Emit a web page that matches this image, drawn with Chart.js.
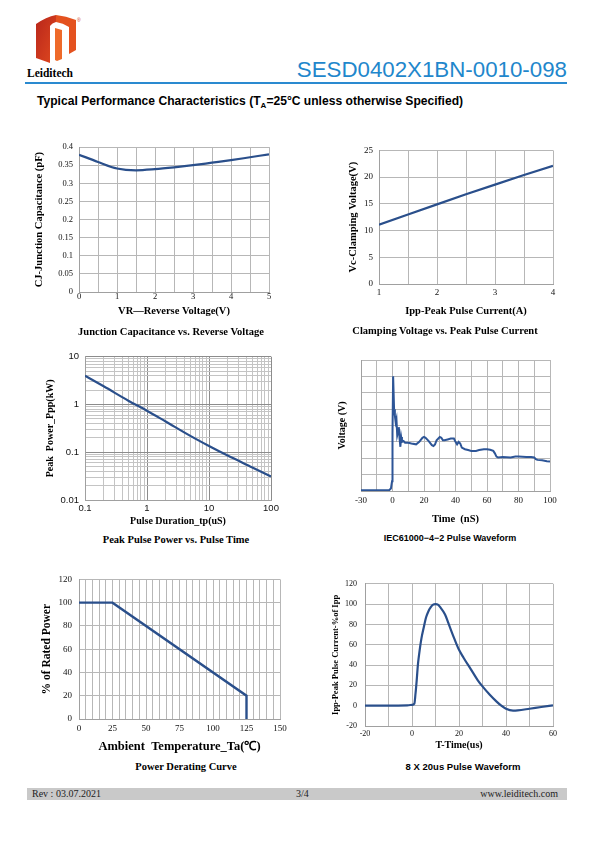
<!DOCTYPE html>
<html>
<head>
<meta charset="utf-8">
<script src="https://cdn.jsdelivr.net/npm/chart.js@4.4.1/dist/chart.umd.min.js"></script>
<style>
  body { margin: 0; width: 595px; height: 841px; position: relative; background: #fff; overflow: hidden;
         font-family: "Liberation Sans", Arial, sans-serif; }
  .abs { position: absolute; white-space: nowrap; line-height: 1; }
  .cap { position: absolute; white-space: nowrap; line-height: 1; transform: translate(-50%, -50%); font-weight: bold; color: #000; }
  .serif { font-family: "Liberation Serif", "Times New Roman", serif; }
  canvas { position: absolute; }
</style>
</head>
<body>

<!-- header -->
<svg class="abs" style="left:30px;top:10px" width="55" height="60" viewBox="30 10 55 60">
  <defs>
    <linearGradient id="lg1" x1="0" y1="0" x2="1" y2="1">
      <stop offset="0" stop-color="#b8261b"/>
      <stop offset="1" stop-color="#e0491f"/>
    </linearGradient>
  </defs>
  <path d="M36,24 Q46,17 56,15 L56,22 Q52,23 50,26 L50,63 L36,58 Z" fill="url(#lg1)"/>
  <path d="M56,15 Q66,16 76,20 L76,50 L69,54 L69,27 Q63,23 56,22 Z" fill="#e4521f"/>
  <path d="M55,28 L62,30 L62,59 L57,61 L55,60 Z" fill="#ee6a2a"/>
  <text x="77" y="22" font-size="5" fill="#d03a20" font-family="Liberation Sans">®</text>
</svg>
<div class="abs serif" style="left:27px;top:68px;font-size:11.5px;font-weight:bold;">Leiditech</div>
<div class="abs" style="right:28px;top:59px;font-size:22.3px;color:#1f87cc;">SESD0402X1BN-0010-098</div>
<div class="abs" style="left:25px;top:82px;width:542px;height:1.5px;background:#2a8ad0;"></div>
<div class="abs" style="left:37px;top:95px;font-size:12.1px;font-weight:bold;">Typical Performance Characteristics (T<span style="font-size:8px;position:relative;top:3px;">A</span>=25°C unless otherwise Specified)</div>

<!-- charts -->
<canvas id="c1"></canvas>
<canvas id="c2"></canvas>
<canvas id="c3"></canvas>
<canvas id="c4"></canvas>
<canvas id="c5"></canvas>
<canvas id="c6"></canvas>

<!-- captions -->
<div class="cap serif" style="left:171px;top:332px;font-size:10.5px;">Junction Capacitance vs. Reverse Voltage</div>
<div class="cap serif" style="left:445px;top:331px;font-size:10.5px;">Clamping Voltage vs. Peak Pulse Current</div>
<div class="cap serif" style="left:176px;top:540px;font-size:10.5px;">Peak Pulse Power vs. Pulse Time</div>
<div class="cap" style="left:450px;top:538px;font-size:9px;">IEC61000−4−2 Pulse Waveform</div>
<div class="cap serif" style="left:186px;top:767px;font-size:10.5px;">Power Derating Curve</div>
<div class="cap" style="left:463px;top:767px;font-size:9.5px;">8 X 20us Pulse Waveform</div>

<!-- footer -->
<div class="abs" style="left:27px;top:788px;width:540px;height:12px;background:#c9c9c9;"></div>
<div class="abs serif" style="left:32px;top:789px;font-size:10px;color:#222;">Rev : 03.07.2021</div>
<div class="abs serif" style="left:296px;top:789px;font-size:10px;color:#222;">3/4</div>
<div class="abs serif" style="right:37px;top:789px;font-size:10px;color:#222;">www.leiditech.com</div>

<script>
// ---- data ----
// junction capacitance vs reverse voltage
const capVr = [0, 0.5, 1, 1.5, 2, 2.5, 3, 3.5, 4, 4.5, 5];
const capPf = [0.379, 0.359, 0.341, 0.336, 0.339, 0.344, 0.35, 0.357, 0.364, 0.372, 0.38];

// clamping voltage vs peak pulse current
const clampIpp = [1, 1.5, 2, 2.5, 3, 3.5, 4];
const clampVc = [11.1, 13.0, 14.9, 16.8, 18.6, 20.4, 22.1];

// peak pulse power vs pulse time
const pulseTp = [0.1, 0.2, 0.5, 1, 2, 5, 10, 20, 50, 100];
const pulsePpp = [3.98, 2.4, 1.2, 0.74, 0.44, 0.22, 0.135, 0.085, 0.048, 0.031];

// IEC61000-4-2 waveform (voltage in grid units)
const iecT = [-20, -15, -10, -5, -2, -1, -0.3, 0, 0.4, 1, 1.5, 2, 2.5, 3, 3.5, 4, 4.5, 5, 5.5, 6, 7, 8, 10, 12,
  15, 17, 19, 20, 21, 23, 25, 26, 27, 28, 30, 31, 32, 33, 35, 37, 39, 40, 41, 42, 43, 44, 46, 48, 50, 53, 55,
  58, 60, 62, 64, 65, 66, 67, 70, 75, 78, 80, 85, 88, 90, 91, 92, 95, 98, 100];
const iecV = [0.05, 0.05, 0.04, 0.05, 0.06, 0.15, 0.6, 3.5, 7.0, 5.0, 4.6, 4.2, 4.4, 3.4, 3.6, 3.9, 3.2, 2.7, 3.3, 3.0, 3.05, 2.95, 2.95, 2.9,
  2.85, 3.0, 3.25, 3.3, 3.25, 3.05, 2.8, 2.75, 2.85, 3.1, 3.3, 3.25, 3.1, 3.1, 3.15, 3.2, 3.2, 3.0, 2.85, 3.0, 2.9, 2.65, 2.55, 2.5, 2.45, 2.45, 2.5,
  2.55, 2.55, 2.52, 2.45, 2.3, 2.1, 2.05, 2.07, 2.05, 2.1, 2.1, 2.08, 2.08, 2.05, 1.95, 1.9, 1.88, 1.82, 1.8];
const iecTickText = { '-20': '-30', '0': '0', '20': '20', '40': '40', '60': '60', '80': '80', '100': '100' };

// power derating
const derateTa = [0, 25, 125, 125];
const deratePct = [100, 100, 20, 0];

// 8x20us pulse waveform
const waveT = [-20, -10, -2, 0, 1, 1.5, 2, 2.5, 3, 4, 5, 6, 7, 8, 9, 10, 11, 12, 14, 16, 18, 20, 22, 25, 28, 30, 33, 36, 38, 40, 43, 45, 50, 55, 60];
const waveI = [0, 0, 0.4, 0.8, 2, 12, 25, 40, 50, 66, 77, 87, 93, 97, 99.5, 100, 99.5, 97, 90, 78, 66, 55, 47, 36, 25, 19, 11, 4, 0, -3, -4.8, -4.6, -3, -1.3, 0.3];

// ---- styling ----
const GRID = '#b7b7b7';
const LINE = '#2a4f8b';
const SERIF = '"Liberation Serif", "Times New Roman", serif';
const SANS = '"Liberation Sans", Arial, sans-serif';

function pts(xs, ys) { return xs.map((x, i) => ({ x: x, y: ys[i] })); }

function place(id, plot, m) {
  const c = document.getElementById(id);
  const w = plot.r - plot.l + m.l + m.r, h = plot.b - plot.t + m.t + m.b;
  c.style.left = (plot.l - m.l) + 'px';
  c.style.top = (plot.t - m.t) + 'px';
  c.style.width = w + 'px';
  c.style.height = h + 'px';
  c.width = w; c.height = h;
  return c;
}

function scale(axis, o, extra) {
  const isX = axis === 'x';
  const t = isX ? o.xTitle : o.yTitle;
  const lh = t.size * 1.2;
  const pad = isX ? (o.plot.b + o.m.b) - t.y - lh / 2 : t.x - (o.plot.l - o.m.l) - lh / 2;
  return Object.assign({
    type: 'linear',
    position: isX ? 'bottom' : 'left',
    afterFit: s => { if (isX) s.height = o.m.b; else s.width = o.m.l; },
    border: { display: true, color: '#a0a0a0', width: 1 },
    grid: { color: GRID, lineWidth: 1, drawTicks: false },
    title: {
      display: true, text: t.text, color: '#000',
      font: { family: t.family || SERIF, size: t.size, weight: 'bold', lineHeight: 1.2 },
      padding: isX ? { top: 0, bottom: pad } : { top: pad, bottom: 0 }
    }
  }, extra);
}

function ticks(family, size, padding, callback, extra) {
  return Object.assign({ color: '#111', font: { family: family, size: size }, padding: padding,
    autoSkip: false, maxRotation: 0, callback: callback }, extra || {});
}

function lineChart(o) {
  const c = place(o.id, o.plot, o.m);
  return new Chart(c, {
    type: 'line',
    data: { datasets: [{ data: o.data, borderColor: o.color || LINE, borderWidth: o.width || 2.2,
      tension: o.tension || 0, cubicInterpolationMode: o.monotone ? 'monotone' : 'default', fill: false }] },
    options: {
      responsive: false, animation: false, devicePixelRatio: 1,
      layout: { padding: { left: 0, top: o.m.t, right: o.m.r, bottom: 0 } },
      plugins: { legend: { display: false }, tooltip: { enabled: false } },
      elements: { point: { radius: 0 } },
      scales: { x: scale('x', o, o.x), y: scale('y', o, o.y) }
    }
  });
}

const round2 = v => String(Math.round(v * 100) / 100);
const onlyAt = list => v => list.indexOf(Math.round(v * 1000) / 1000) >= 0 ? String(Math.round(v * 1000) / 1000) : '';

function logTicks(min, max) {
  const out = [];
  for (let e = Math.floor(Math.log10(min)); e <= Math.ceil(Math.log10(max)); e++) {
    for (let k = 1; k < 10; k++) {
      const v = Number((k * Math.pow(10, e)).toPrecision(6));
      if (v >= min * 0.999 && v <= max * 1.001) out.push(v);
    }
  }
  return out;
}
const isDecade = v => Math.abs(Math.log10(v) - Math.round(Math.log10(v))) < 1e-6;
const logGrid = { color: ctx => (ctx.tick && isDecade(ctx.tick.value)) ? '#8c8c8c' : '#c4c4c4', lineWidth: 1, drawTicks: false };

// 1. junction capacitance
lineChart({
  id: 'c1', plot: { l: 79, t: 146, r: 269, b: 292 }, m: { l: 50, t: 10, r: 12, b: 36 },
  xTitle: { text: 'VR\u2014Reverse Voltage(V)', size: 10.5, y: 311.5 },
  yTitle: { text: 'CJ-Junction Capacitance (pF)', size: 10.5, x: 39 },
  data: pts(capVr, capPf), tension: 0.4, monotone: true,
  x: { min: 0, max: 5, ticks: ticks(SERIF, 8.5, 0, onlyAt([0, 1, 2, 3, 4, 5]), { stepSize: 0.5 }) },
  y: { min: 0, max: 0.4, ticks: ticks(SERIF, 8.5, 6, round2, { stepSize: 0.05 }) }
});

// 2. clamping voltage
lineChart({
  id: 'c2', plot: { l: 379, t: 149, r: 553, b: 284 }, m: { l: 50, t: 10, r: 14, b: 36 },
  xTitle: { text: 'Ipp-Peak Pulse Current(A)', size: 10.5, y: 311 },
  yTitle: { text: 'Vc-Clamping Voltage(V)', size: 10.5, x: 353 },
  data: pts(clampIpp, clampVc), tension: 0,
  x: { min: 1, max: 4, ticks: ticks(SERIF, 9, 3.5, onlyAt([1, 2, 3, 4]), { stepSize: 0.5 }) },
  y: { min: 0, max: 25, ticks: ticks(SERIF, 9, 6, v => String(v), { stepSize: 5 }) }
});

// 3. peak pulse power (log-log)
lineChart({
  id: 'c3', plot: { l: 85, t: 355, r: 271, b: 500 }, m: { l: 52, t: 10, r: 14, b: 32 },
  xTitle: { text: 'Pulse Duration_tp(uS)', size: 10, y: 521.5 },
  yTitle: { text: 'Peak  Power_Ppp(kW)', size: 10, x: 50 },
  data: pts(pulseTp, pulsePpp), tension: 0.4, monotone: true,
  x: { type: 'logarithmic', min: 0.1, max: 100, grid: logGrid,
       afterBuildTicks: s => { s.ticks = logTicks(0.1, 100).map(v => ({ value: v })); },
       ticks: ticks(SANS, 9.5, 3, v => isDecade(v) ? String(Number(v.toPrecision(1))) : '') },
  y: { type: 'logarithmic', min: 0.01, max: 10, grid: logGrid,
       afterBuildTicks: s => { s.ticks = logTicks(0.01, 10).map(v => ({ value: v })); },
       ticks: ticks(SANS, 9.5, 6, v => isDecade(v) ? String(Number(v.toPrecision(1))) : '') }
});

// 4. IEC61000-4-2 waveform
lineChart({
  id: 'c4', plot: { l: 361, t: 360, r: 550, b: 491 }, m: { l: 28, t: 10, r: 14, b: 36 },
  xTitle: { text: 'Time  (nS)', size: 10.5, y: 519 },
  yTitle: { text: 'Voltage (V)', size: 10, x: 342 },
  data: pts(iecT, iecV), tension: 0, color: '#2d5597', width: 2,
  x: { min: -20, max: 100, ticks: ticks(SERIF, 9, 4, v => iecTickText[String(v)] || '', { stepSize: 10 }) },
  y: { min: 0, max: 8, ticks: { display: false, stepSize: 1 } }
});

// 5. power derating
lineChart({
  id: 'c5', plot: { l: 79, t: 577, r: 280, b: 719 }, m: { l: 50, t: 10, r: 12, b: 36 },
  xTitle: { text: 'Ambient  Temperature_Ta(\u2103)', size: 12.5, y: 746.7 },
  yTitle: { text: '% of Rated Power', size: 11.5, x: 47 },
  data: pts(derateTa, deratePct), tension: 0, width: 2.4,
  x: { min: 0, max: 150, ticks: ticks(SERIF, 9, 4, onlyAt([0, 25, 50, 75, 100, 125, 150]), { stepSize: 5 }) },
  y: { min: 0, max: 120, ticks: ticks(SERIF, 9, 7, v => String(v), { stepSize: 20 }) }
});

// 6. 8x20us waveform
lineChart({
  id: 'c6', plot: { l: 365, t: 581, r: 553, b: 726 }, m: { l: 36, t: 10, r: 14, b: 30 },
  xTitle: { text: 'T-Time(us)', size: 10, y: 745 },
  yTitle: { text: 'Ipp-Peak Pulse Current-%of Ipp', size: 8.5, x: 336 },
  data: pts(waveT, waveI), tension: 0.4, monotone: true,
  x: { min: -20, max: 60, ticks: ticks(SERIF, 8, 3, onlyAt([-20, 0, 20, 40, 60]), { stepSize: 10 }) },
  y: { min: -20, max: 120, ticks: ticks(SERIF, 8, 8, v => String(v), { stepSize: 20 }) }
});
</script>
</body>
</html>
